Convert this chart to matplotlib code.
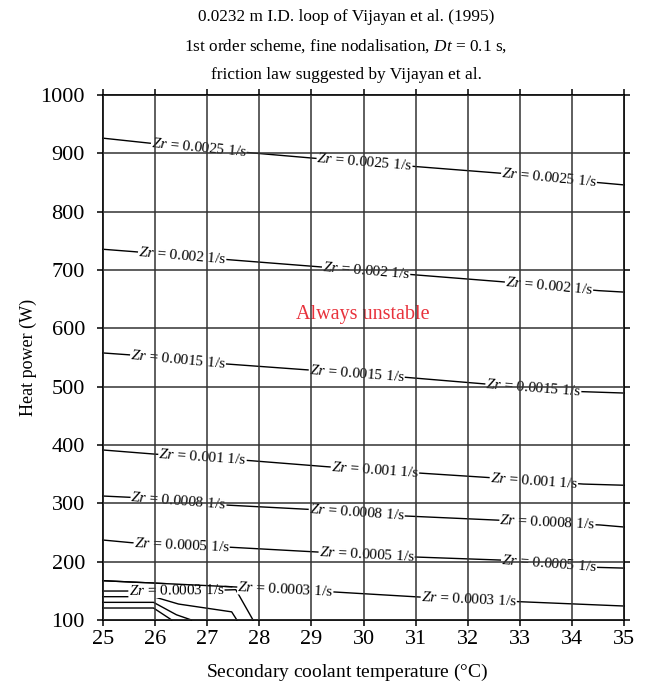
import numpy as np
import matplotlib.pyplot as plt

plt.rcParams['font.family'] = 'Liberation Serif'
plt.rcParams['mathtext.fontset'] = 'custom'
plt.rcParams['mathtext.rm'] = 'Liberation Serif'
plt.rcParams['mathtext.it'] = 'Liberation Serif:italic'

# Stability-threshold lines (secondary coolant temperature in C, heat power in W)
zr_0025_x = [25.0, 25.90, 27.79, 29.04, 31.01, 32.62, 34.51, 35.0]
zr_0025_y = [925.8, 917.2, 901.1, 891.5, 877.1, 865.8, 849.6, 845.7]
zr_0025_lab = [26.84, 30.02, 33.56]

zr_002_x = [25.0, 25.58, 27.47, 29.10, 31.01, 32.62, 34.51, 35.0]
zr_002_y = [735.4, 731.4, 717.1, 705.7, 691.4, 680.0, 664.5, 662.0]
zr_002_lab = [26.52, 30.05, 33.56]

zr_0015_x = [25.0, 25.50, 27.37, 28.94, 30.80, 32.33, 34.19, 35.0]
zr_0015_y = [557.7, 554.5, 538.8, 528.6, 516.0, 504.6, 491.4, 489.0]
zr_0015_lab = [26.44, 29.87, 33.26]

zr_001_x = [25.0, 25.97, 27.85, 29.29, 31.15, 32.33, 34.22, 35.0]
zr_001_y = [391.4, 384.5, 373.0, 362.8, 351.4, 344.6, 333.0, 331.0]
zr_001_lab = [26.91, 30.22, 33.27]

zr_0008_x = [25.0, 25.52, 27.37, 28.94, 30.80, 32.52, 34.54, 35.0]
zr_0008_y = [312.5, 310.3, 297.0, 289.7, 278.3, 271.4, 262.9, 259.4]
zr_0008_lab = [26.45, 29.87, 33.53]

zr_0005_x = [25.0, 25.55, 27.47, 29.13, 30.99, 32.62, 34.50, 35.0]
zr_0005_y = [237.1, 232.5, 224.6, 216.5, 208.0, 202.8, 190.2, 189.0]
zr_0005_lab = [26.51, 30.06, 33.56]

zr_0003a_x = [25.0, 27.47, 29.45, 31.08, 33.00, 35.0]
zr_0003a_y = [167.4, 157.0, 148.0, 139.4, 131.4, 124.0]
zr_0003a_lab = [28.50, 32.02]

zr_0003b_x = [25.0, 25.45, 27.37, 27.55, 27.88]
zr_0003b_y = [149.7, 149.7, 151.5, 152.0, 100.0]
zr_0003b_lab = [26.41]

low1_x = [25.0, 25.97, 26.45, 27.47, 27.57]
low1_y = [140.0, 140.0, 127.4, 114.0, 100.0]
low2_x = [25.0, 25.97, 26.41, 26.70]
low2_y = [130.3, 130.3, 109.0, 100.0]
low3_x = [25.0, 25.97, 26.32]
low3_y = [120.6, 120.6, 100.0]

labelled = [
    (zr_0025_x, zr_0025_y, zr_0025_lab, '0.0025'),
    (zr_002_x, zr_002_y, zr_002_lab, '0.002'),
    (zr_0015_x, zr_0015_y, zr_0015_lab, '0.0015'),
    (zr_001_x, zr_001_y, zr_001_lab, '0.001'),
    (zr_0008_x, zr_0008_y, zr_0008_lab, '0.0008'),
    (zr_0005_x, zr_0005_y, zr_0005_lab, '0.0005'),
    (zr_0003a_x, zr_0003a_y, zr_0003a_lab, '0.0003'),
    (zr_0003b_x, zr_0003b_y, zr_0003b_lab, '0.0003'),
]
unlabelled = [(low1_x, low1_y), (low2_x, low2_y), (low3_x, low3_y)]

x_ticks = np.arange(25, 36, 1)
y_ticks = np.arange(100, 1001, 100)

fig = plt.figure(figsize=(6.46, 6.83), dpi=100)
ax = fig.add_axes([0.1594, 0.0922, 0.8066, 0.7689])
ax.set_xlim(25, 35)
ax.set_ylim(100, 1000)

for xs, ys in unlabelled:
    ax.plot(xs, ys, color='black', lw=1.0, zorder=2, clip_on=False)

for xs, ys, lab_x, level in labelled:
    ax.plot(xs, ys, color='black', lw=1.0, zorder=2, clip_on=False)
    for lx in lab_x:
        ly = np.interp(lx, xs, ys)
        # text angle follows the local slope in screen space
        p0 = ax.transData.transform((lx - 0.3, np.interp(lx - 0.3, xs, ys)))
        p1 = ax.transData.transform((lx + 0.3, np.interp(lx + 0.3, xs, ys)))
        ang = np.degrees(np.arctan2(p1[1] - p0[1], p1[0] - p0[0]))
        ax.text(lx, ly, '$Zr$ = ' + level + ' 1/s', fontsize=11,
                ha='center', va='center', rotation=ang,
                rotation_mode='anchor', zorder=2.2,
                bbox=dict(facecolor='white', edgecolor='none', pad=0.2))

# first stretch of the upper 0.0003 line runs just over the lower one's label
ax.plot(zr_0003a_x[:2], zr_0003a_y[:2], color='black', lw=1.0, zorder=2.3)

ax.text(29.99, 623, 'Always unstable', color='#e8323c', fontsize=14.5,
        ha='center', va='center', zorder=2.2)

ax.set_axisbelow(False)
ax.set_xticks(x_ticks)
ax.set_yticks(y_ticks)
ax.grid(True, color='#333333', lw=1.1)
ax.tick_params(direction='out', length=4, width=1.1, labelsize=16,
               top=True, right=True)
ax.tick_params(axis='x', pad=3)
ax.tick_params(axis='y', pad=9)
for sp in ax.spines.values():
    sp.set_linewidth(1.3)

ax.set_xlabel('Secondary coolant temperature ($\\degree$C)', fontsize=14,
              va='center')
ax.xaxis.set_label_coords(0.468, -0.099)
ax.set_ylabel('Heat power (W)', fontsize=13, va='center')
ax.yaxis.set_label_coords(-0.144, 0.5)

fig.text(0.5356, 1 - 17 / 683, '0.0232 m I.D. loop of Vijayan et al. (1995)',
         ha='center', va='center', fontsize=12.4)
fig.text(0.5356, 1 - 46 / 683,
         '1st order scheme, fine nodalisation, $Dt$ = 0.1 s,',
         ha='center', va='center', fontsize=12.4)
fig.text(0.5356, 1 - 75 / 683, 'friction law suggested by Vijayan et al.',
         ha='center', va='center', fontsize=12.4)

fig.savefig('out.png', dpi=100)
